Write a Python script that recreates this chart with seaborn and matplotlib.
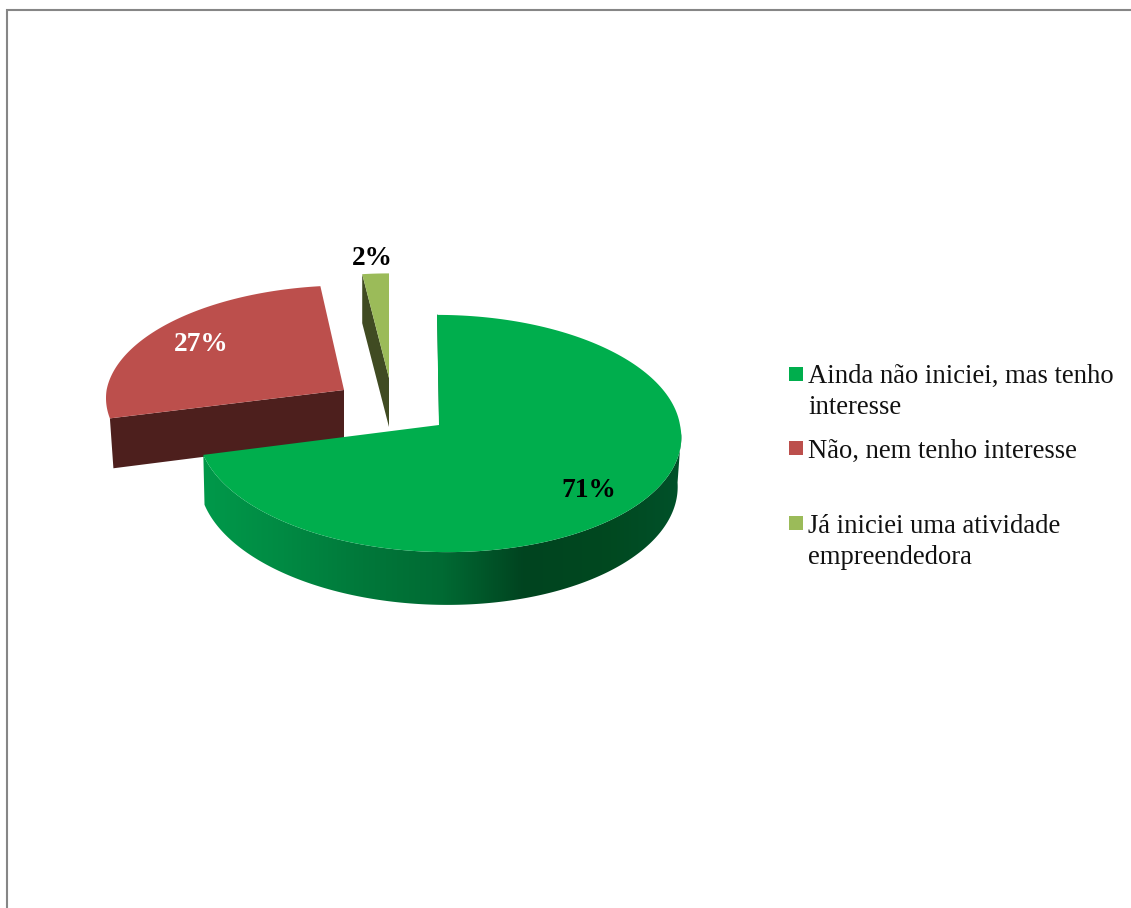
import numpy as np
import matplotlib.pyplot as plt
from matplotlib.patches import Polygon
import seaborn as sns

# Chart data
categories = ['Ainda não iniciei, mas tenho\ninteresse', 'Não, nem tenho interesse',
              'Já iniciei uma atividade\nempreendedora']
values = [71, 27, 2]
value_labels = ['71%', '27%', '2%']

# Colours
top_colors = ['#00AE4D', '#BC4F4C', '#9BBB59']
cut_colors = ['#003D1E', '#4D1F1D', '#404B22']
side_stops = ['#00994A', '#008A43', '#00783A', '#006A33', '#004420', '#00481F', '#00512A']
label_colors = ['black', 'white', 'black']

# Pie geometry in image pixels
apexes = [(439, 425), (344, 390), (389, 378)]
scales_x = [1.0, 0.985, 0.95]
scales_y = [1.0, 0.95, 0.95]
leans_up = [0.018, -0.04, 0]
leans_down = [0.067, 0, 0]
shrink_left = [0.995, 0.985, 1]
RX, RY, PERSP, DEPTH = 241, 118, 0.0717, 49
label_pos = [(589, 497), (201, 351), (372, 265)]
legend_base = [383, 458, 533]
swatch_top = [367, 441, 516]

sns.set_theme(style='white')
plt.rcParams['font.family'] = ['Liberation Serif', 'DejaVu Serif']

fig = plt.figure(figsize=(11.31, 9.08), dpi=100)
ax = fig.add_axes([0, 0, 1, 1])


def rim(theta, i, lower=False):
    t = np.radians(theta)
    w = 1 + PERSP * np.cos(t)
    x = RX * np.sin(t) / w * scales_x[i]
    y = -RY * np.cos(t) / w * scales_y[i]
    x = x + leans_down[i] * np.maximum(y, 0) + leans_up[i] * np.minimum(y, 0)
    if lower:
        x = x * np.where(x < 0, shrink_left[i], 0.985)
        y = y + DEPTH / w
    return apexes[i][0] + x, apexes[i][1] + y


# Slice angles clockwise from 12 o'clock
edges = np.concatenate([[0], np.cumsum(values)]) / sum(values) * 360

# Green outer wall, shaded along x
wall = np.array(sns.blend_palette(side_stops, 256))[None, :, :]
th = np.linspace(94, edges[1], 300)
x0, y0 = rim(th, 0)
x1, y1 = rim(th, 0, lower=True)
outline = Polygon(np.c_[np.r_[x0, x1[::-1]], np.r_[y0, y1[::-1]]], transform=ax.transData,
                  fc='none', ec='none')
ax.add_patch(outline)
im = ax.imshow(wall, extent=[203, 683, 650, 400], aspect='auto', zorder=2, interpolation='bilinear')
im.set_clip_path(outline)

# Cut faces of the exploded slices
xa, ya = rim(edges[1], 1)
xb, yb = rim(edges[1], 1, lower=True)
ax.fill([apexes[1][0], xa, xb, apexes[1][0]],
        [apexes[1][1], ya, yb, apexes[1][1] + DEPTH],
        color=cut_colors[1], lw=0, zorder=1)
xa, ya = rim(edges[2], 2)
ax.fill([apexes[2][0], xa, xa, apexes[2][0]],
        [apexes[2][1], ya, ya + DEPTH, apexes[2][1] + DEPTH],
        color=cut_colors[2], lw=0, zorder=1)

# Top faces
zorders = [4, 1.5, 1.5]
for i in range(3):
    th = np.linspace(edges[i], edges[i + 1], 200)
    x, y = rim(th, i)
    ax.fill(np.r_[apexes[i][0], x], np.r_[apexes[i][1], y], color=top_colors[i], lw=0,
            zorder=zorders[i])

# Thin dark edge where the green slice starts
xa, ya = rim(edges[0], 0)
ax.plot([xa + 0.5, apexes[0][0] + 0.5], [ya, apexes[0][1]], color=cut_colors[0], lw=0.5, zorder=3)

# Value labels
for pos, txt, col in zip(label_pos, value_labels, label_colors):
    ax.text(pos[0], pos[1], txt, color=col, fontsize=19.7, fontweight='bold',
            ha='center', va='baseline', zorder=6)

# Legend
for label, base, top, col in zip(categories, legend_base, swatch_top, top_colors):
    ax.fill([789, 803, 803, 789], [top, top, top + 14, top + 14], color=col, lw=0, zorder=6)
    for j, line in enumerate(label.split('\n')):
        ax.text(808, base + j * 30.5, line, color='#111111', fontsize=19.2, ha='left', va='baseline')

# Frame, only left and top are inside the crop
ax.plot([6.5, 6.5, 1131], [908, 10, 10], color='#868686', lw=1.5, solid_joinstyle='miter')

ax.set_xlim(0, 1131)
ax.set_ylim(908, 0)
ax.axis('off')

fig.savefig('out.png', dpi=100)
